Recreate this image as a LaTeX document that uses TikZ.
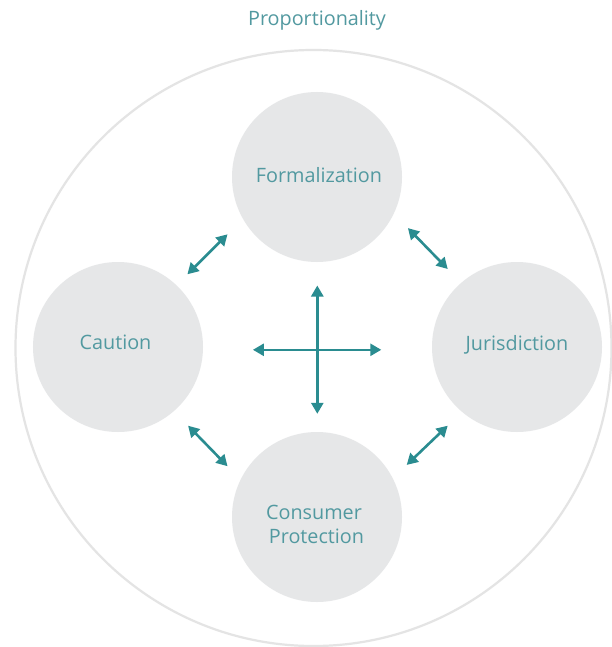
\documentclass[tikz,border=0pt]{standalone}
\usepackage{fontspec}
\setmainfont{Open Sans}
\usetikzlibrary{arrows.meta}
\definecolor{txtteal}{HTML}{5299A0}
\definecolor{arrteal}{HTML}{2A8C90}
\definecolor{circfill}{HTML}{E6E7E8}
\definecolor{outerline}{HTML}{E4E4E4}
\tikzset{
  pillar/.style={circle, fill=circfill, draw=none, minimum size=170bp, inner sep=0pt},
  lbl/.style={anchor=base, text=txtteal, font=\fontsize{19.8bp}{24bp}\selectfont, inner sep=0pt, align=center},
  link/.style={draw=arrteal, line width=2.6bp, {Triangle[length=11bp,width=12bp]}-{Triangle[length=11bp,width=12bp]}, shorten <=0pt, shorten >=0pt},
}
\begin{document}
\begin{tikzpicture}[x=1bp,y=-1bp]
\useasboundingbox (0,0) rectangle (612,647);
\fill[white] (0,0) rectangle (612,647);
\node[circle, draw=outerline, line width=2.2bp, minimum size=596bp, inner sep=0pt] (outer) at (313.5,348) {};
\node[lbl] (title) at (317,26) {Proportionality};

\node[pillar] (F) at (317,177) {};
\node[pillar] (C) at (118,347) {};
\node[pillar] (J) at (517,347) {};
\node[pillar] (P) at (317,517) {};

\node[lbl] (Ft) at (319,182.7) {Formalization};
\node[lbl] (Ct) at (115.5,349) {Caution};
\node[lbl] (Jt) at (517,350.7) {Jurisdiction};
\node[lbl] (Pt1) at (314,519.3) {Consumer};
\node[lbl] (Pt2) at (316.5,543.3) {Protection};

\coordinate (fc1) at (227.5,234.3);
\coordinate (fc2) at (187.4,274.3);
\coordinate (fj1) at (407.9,228.1);
\coordinate (fj2) at (447.7,269);
\coordinate (cp1) at (188.1,425.7);
\coordinate (cp2) at (227.5,466.2);
\coordinate (jp1) at (447.7,425.7);
\coordinate (jp2) at (406.7,464.9);
\coordinate (vt) at (317.3,285.5);
\coordinate (vb) at (317.3,413.8);
\coordinate (hl) at (252.9,349.8);
\coordinate (hr) at (381.3,349.8);

\draw[link] (fc1) -- (fc2);
\draw[link] (fj1) -- (fj2);
\draw[link] (cp1) -- (cp2);
\draw[link] (jp1) -- (jp2);
\draw[link] (vt) -- (vb);
\draw[link] (hl) -- (hr);
\end{tikzpicture}
\end{document}
